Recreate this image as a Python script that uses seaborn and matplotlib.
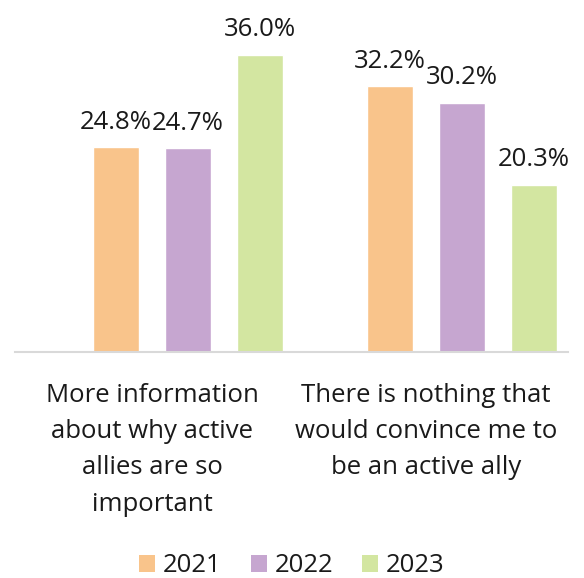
import matplotlib
matplotlib.use("Agg")
import matplotlib.pyplot as plt
import matplotlib.transforms as mtransforms
import seaborn as sns
import pandas as pd
from matplotlib.patches import Patch

categories = ["More information\nabout why active\nallies are so\nimportant",
              "There is nothing that\nwould convince me to\nbe an active ally"]
years = ["2021", "2022", "2023"]
values_2021 = [24.8, 32.2]
values_2022 = [24.7, 30.2]
values_2023 = [36.0, 20.3]
colors = ["#F9C48B", "#C6A6D0", "#D3E6A1"]

rows = []
for y, vals in zip(years, [values_2021, values_2022, values_2023]):
    for c, v in zip(categories, vals):
        rows.append({"category": c, "year": y, "value": v})
df = pd.DataFrame(rows)

sns.set_style("white")
plt.rcParams['font.family'] = ['Open Sans', 'DejaVu Sans']
FS = 18.5

fig = plt.figure(figsize=(5.84, 5.78), dpi=100)
ax = fig.add_axes([15/584, (578-352)/578, 553/584, 330/578])
sns.barplot(data=df, x="category", y="value", hue="year", palette=colors,
            width=0.788, gap=0.36, ax=ax, legend=False, saturation=1)
ax.set_ylim(0, 40)
ax.set_xlim((15-188)/274, (568-188)/274)
for cont in ax.containers:
    ax.bar_label(cont, labels=[f"{v:.1f}%" for v in cont.datavalues],
                 padding=9, fontsize=FS, color="#1a1a1a")
for s in ["top", "right", "left"]:
    ax.spines[s].set_visible(False)
ax.spines["bottom"].set_color("#d9d9d9")
ax.spines["bottom"].set_linewidth(1.5)
ax.set_yticks([])
ax.set_xlabel("")
ax.set_ylabel("")
ax.tick_params(axis="x", length=0, pad=22, labelsize=FS, colors="#1a1a1a")
shift = mtransforms.ScaledTranslation(-36/100, 0, fig.dpi_scale_trans)
for lbl in ax.get_xticklabels():
    lbl.set_linespacing(1.6)
    lbl.set_verticalalignment("top")
    lbl.set_transform(lbl.get_transform() + shift)

handles = [Patch(facecolor=c, edgecolor="none") for c in colors]
fig.legend(handles, years, loc="center", bbox_to_anchor=(0.5, 12/578), ncol=3,
           frameon=False, fontsize=FS, handlelength=0.62, handleheight=0.62,
           handletextpad=0.31, columnspacing=1.13, labelcolor="#1a1a1a",
           borderpad=0, borderaxespad=0)

fig.savefig("out.png", dpi=100)
